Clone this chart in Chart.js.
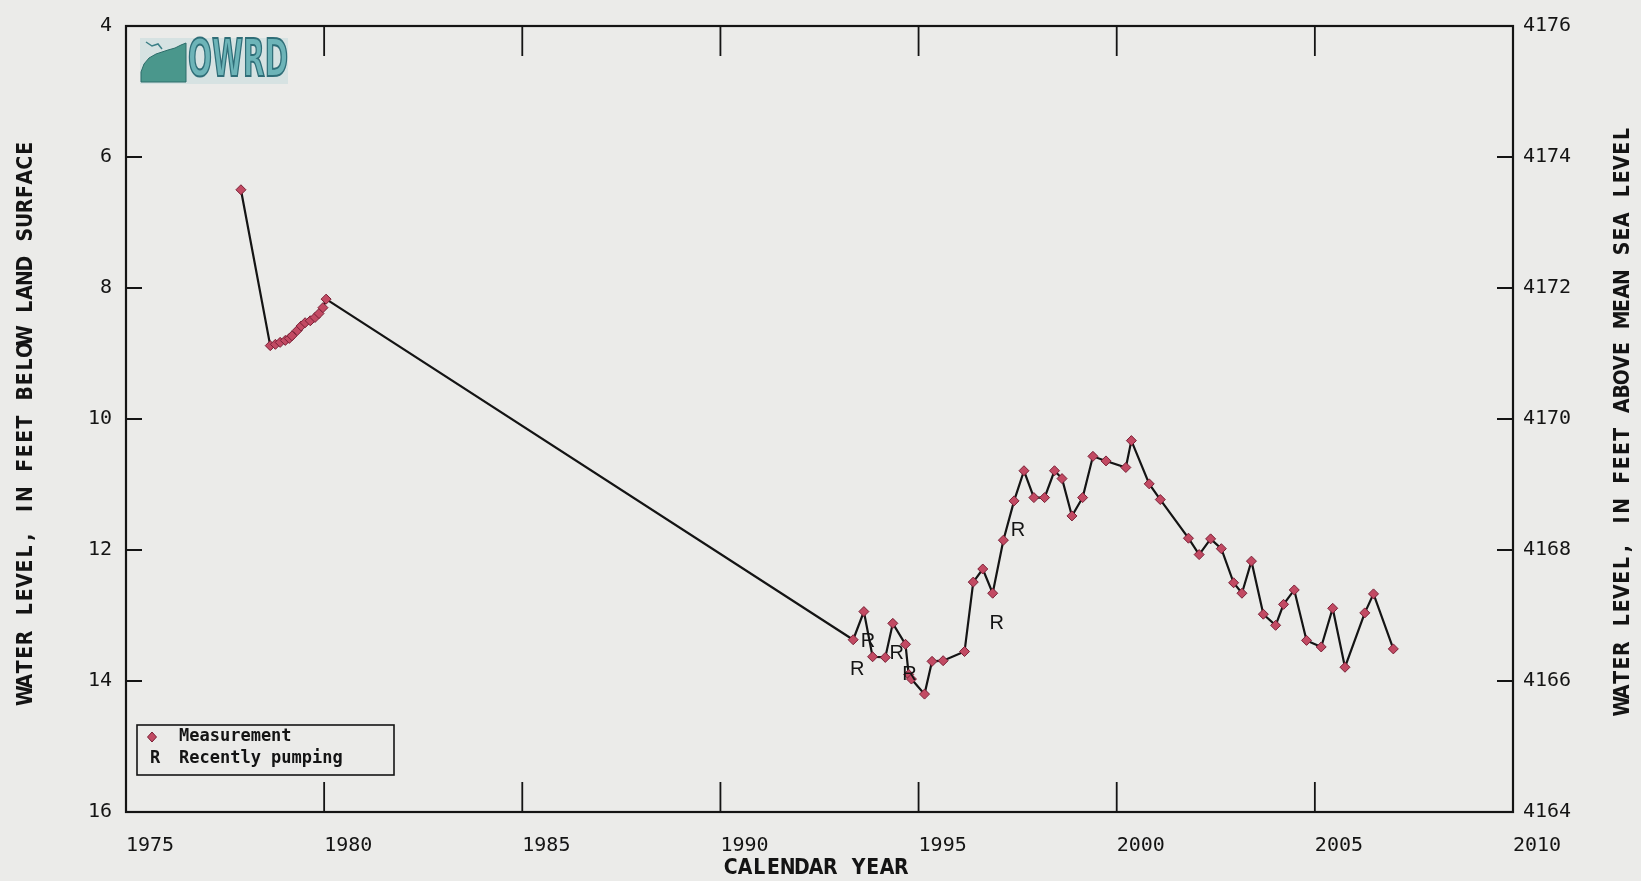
<!DOCTYPE html>
<html>
<head>
<meta charset="utf-8">
<script src="https://cdn.jsdelivr.net/npm/chart.js@4.4.1/dist/chart.umd.min.js"></script>
<style>
html,body{margin:0;padding:0;background:#ebebe9;}
canvas{display:block;}
</style>
</head>
<body>
<canvas id="c" width="1641" height="881"></canvas>
<script>
// ---- data ----
const years = [1977.90,
  1978.64,1978.77,1978.89,1979.02,1979.12,1979.19,1979.32,1979.42,1979.52,1979.65,1979.77,1979.87,1979.97,1980.05,
  1993.35,1993.62,1993.84,1994.16,1994.35,1994.67,1994.75,1994.82,1995.15,1995.34,
  1995.62,1996.16,1996.38,1996.62,1996.87,1997.14,1997.41,1997.66,1997.91,1998.18,
  1998.43,1998.62,1998.87,1999.14,1999.40,1999.73,2000.23,2000.37,2000.82,2001.10,
  2001.81,2002.08,2002.37,2002.64,2002.95,2003.16,2003.40,2003.70,2004.01,2004.21,
  2004.48,2004.79,2005.16,2005.45,2005.76,2006.26,2006.48,2006.98];
const depths = [6.50,
  8.88,8.86,8.83,8.80,8.77,8.73,8.65,8.58,8.53,8.50,8.45,8.39,8.30,8.17,
  13.37,12.94,13.63,13.64,13.12,13.44,13.90,13.97,14.20,13.70,
  13.69,13.55,12.49,12.29,12.66,11.85,11.25,10.79,11.20,11.20,
  10.79,10.91,11.48,11.20,10.57,10.64,10.74,10.33,10.99,11.23,
  11.82,12.07,11.83,11.98,12.50,12.66,12.17,12.98,13.15,12.83,
  12.61,13.38,13.48,12.89,13.79,12.96,12.67,13.51];
const pumpYears = [1993.35,1993.62,1994.35,1994.67,1996.87,1997.41];
const pumpDepths = [13.37,12.94,13.12,13.44,12.66,11.25];

const xTickValues = [1975,1980,1985,1990,1995,2000,2005,2010];
const xTickLabels = ['1975','1980','1985','1990','1995','2000','2005','2010'];
const yLeftTicks = [4,6,8,10,12,14,16];
const yRightTicks = [4164,4166,4168,4170,4172,4174,4176];

const xTitle = 'CALENDAR YEAR';
const yLeftTitle = 'WATER LEVEL, IN FEET BELOW LAND SURFACE';
const yRightTitle = 'WATER LEVEL, IN FEET ABOVE MEAN SEA LEVEL';
const legendLabels = ['Measurement','Recently pumping'];

// ---- styling helpers ----
const INK = '#141414';
const BG = '#ebebe9';
const PT_FILL = '#c24a63';
const PT_EDGE = '#7a2036';
const tickFont = {family:'DejaVu Sans Mono', size:20};

const bgPlugin = {
  id:'bg',
  beforeDraw(chart){
    const ctx = chart.ctx;
    ctx.save();
    ctx.fillStyle = BG;
    ctx.fillRect(0,0,chart.width,chart.height);
    ctx.restore();
  }
};

const framePlugin = {
  id:'frame',
  afterDraw(chart){
    const ctx = chart.ctx, a = chart.chartArea;
    const xs = chart.scales.x, yl = chart.scales.y, yr = chart.scales.y2;
    ctx.save();
    ctx.strokeStyle = INK;
    ctx.lineWidth = 2.2;
    ctx.strokeRect(a.left, a.top, a.right - a.left, a.bottom - a.top);
    ctx.lineWidth = 1.8;
    ctx.beginPath();
    xTickValues.slice(1,-1).forEach(v=>{
      const px = xs.getPixelForValue(v);
      ctx.moveTo(px, a.top); ctx.lineTo(px, a.top + 30);
      ctx.moveTo(px, a.bottom); ctx.lineTo(px, a.bottom - 30);
    });
    yLeftTicks.slice(1,-1).forEach(v=>{
      const py = yl.getPixelForValue(v);
      ctx.moveTo(a.left, py); ctx.lineTo(a.left + 16, py);
    });
    yRightTicks.slice(1,-1).forEach(v=>{
      const py = yr.getPixelForValue(v);
      ctx.moveTo(a.right, py); ctx.lineTo(a.right - 16, py);
    });
    ctx.stroke();
    ctx.restore();
  }
};

// draws an axis title with even per-character advance (plotter style)
function spacedText(ctx, text, x, y, rot, advance){
  ctx.save();
  ctx.translate(x, y);
  ctx.rotate(rot);
  ctx.font = 'bold 21px "DejaVu Sans Condensed"';
  ctx.fillStyle = INK;
  ctx.textBaseline = 'middle';
  ctx.textAlign = 'center';
  const chars = Array.from(text);
  const total = advance * chars.length;
  let cx = -total/2 + advance/2;
  for (const ch of chars){ ctx.fillText(ch, cx, 0); cx += advance; }
  ctx.restore();
}

const titlePlugin = {
  id:'titles',
  afterDraw(chart){
    const ctx = chart.ctx, a = chart.chartArea;
    const midY = (a.top + a.bottom)/2;
    spacedText(ctx, yLeftTitle, 27, midY + 3, -Math.PI/2, 14.4);
    spacedText(ctx, yRightTitle, 1624, midY + 1, -Math.PI/2, 14.3);
    spacedText(ctx, xTitle, 816, 869, 0, 14.2);
  }
};

const pumpPlugin = {
  id:'pump',
  afterDatasetsDraw(chart){
    const ctx = chart.ctx;
    const meta = chart.getDatasetMeta(1);
    ctx.save();
    ctx.font = '20px "Liberation Sans"';
    ctx.fillStyle = INK;
    ctx.textAlign = 'center';
    ctx.textBaseline = 'middle';
    meta.data.forEach(el=>{
      ctx.fillText('R', el.x + 4, el.y + 30);
    });
    ctx.restore();
  }
};

const legendPlugin = {
  id:'boxlegend',
  afterDraw(chart){
    const ctx = chart.ctx;
    ctx.save();
    ctx.strokeStyle = INK;
    ctx.lineWidth = 1.6;
    ctx.strokeRect(137, 725, 257, 50);
    ctx.beginPath();
    ctx.moveTo(152, 732); ctx.lineTo(156.5, 737); ctx.lineTo(152, 742); ctx.lineTo(147.5, 737); ctx.closePath();
    ctx.fillStyle = PT_FILL; ctx.fill();
    ctx.strokeStyle = PT_EDGE; ctx.lineWidth = 1; ctx.stroke();
    ctx.fillStyle = INK;
    ctx.font = 'bold 17px "DejaVu Sans Mono"';
    ctx.textBaseline = 'middle';
    ctx.textAlign = 'center';
    ctx.fillText('R', 155, 759);
    ctx.textAlign = 'left';
    ctx.fillText(legendLabels[0], 179, 737);
    ctx.fillText(legendLabels[1], 179, 759);
    ctx.restore();
  }
};

const logoPlugin = {
  id:'logo',
  afterDraw(chart){
    const ctx = chart.ctx;
    ctx.save();
    ctx.fillStyle = 'rgba(175,210,214,0.35)';
    ctx.fillRect(140, 38, 148, 46);
    ctx.beginPath();
    ctx.moveTo(141, 82); ctx.lineTo(141, 72); ctx.lineTo(144, 64); ctx.lineTo(149, 58);
    ctx.lineTo(156, 54); ctx.lineTo(162, 52); ctx.lineTo(168, 50); ctx.lineTo(175, 48);
    ctx.lineTo(181, 45); ctx.lineTo(186, 43); ctx.lineTo(186, 82); ctx.closePath();
    ctx.fillStyle = '#4a978c';
    ctx.fill();
    ctx.strokeStyle = '#2c6d6a'; ctx.lineWidth = 1; ctx.stroke();
    ctx.beginPath();
    ctx.moveTo(146, 42); ctx.lineTo(152, 46); ctx.lineTo(158, 44); ctx.lineTo(162, 49);
    ctx.strokeStyle = '#3b7f86'; ctx.lineWidth = 1.5; ctx.stroke();
    ctx.font = 'bold 52px "DejaVu Sans Condensed"';
    const w = ctx.measureText('OWRD').width;
    ctx.translate(188, 62);
    ctx.scale(100 / w, 1);
    ctx.textBaseline = 'middle';
    ctx.textAlign = 'left';
    ctx.fillStyle = '#6db4b8';
    ctx.fillText('OWRD', 0, 0);
    ctx.strokeStyle = '#2f6e78';
    ctx.lineWidth = 2;
    ctx.strokeText('OWRD', 0, 0);
    ctx.restore();
  }
};

new Chart(document.getElementById('c'), {
  type:'scatter',
  data:{
    datasets:[
      {
        label: legendLabels[0],
        data: years.map((x,i)=>({x:x, y:depths[i]})),
        xAxisID:'x', yAxisID:'y',
        showLine:true,
        borderColor: INK,
        borderWidth: 2.2,
        tension: 0,
        pointStyle:'rectRot',
        pointRadius: 5,
        pointBackgroundColor: PT_FILL,
        pointBorderColor: PT_EDGE,
        pointBorderWidth: 1,
        order: 1
      },
      {
        label: legendLabels[1],
        data: pumpYears.map((x,i)=>({x:x, y:pumpDepths[i]})),
        xAxisID:'x', yAxisID:'y',
        showLine:false,
        pointRadius: 0,
        order: 0
      }
    ]
  },
  options:{
    responsive:false,
    animation:false,
    devicePixelRatio:1,
    layout:{padding:{top:18, left:0, right:0, bottom:0}},
    plugins:{legend:{display:false}, tooltip:{enabled:false}},
    scales:{
      x:{
        type:'linear', position:'bottom', min:1975, max:2010,
        afterBuildTicks(s){ s.ticks = xTickValues.map(v=>({value:v})); },
        ticks:{align:'start', padding:22, color:INK, font:tickFont, maxRotation:0, autoSkip:false,
          callback:(v)=>{ const i = xTickValues.indexOf(v); return i>=0 ? xTickLabels[i] : ''; }},
        grid:{display:false, drawTicks:false},
        border:{display:false},
        afterFit(s){ s.height = 69; }
      },
      y:{
        type:'linear', position:'left', reverse:true, min:4, max:16,
        afterBuildTicks(s){ s.ticks = yLeftTicks.map(v=>({value:v})); },
        ticks:{padding:14, color:INK, font:tickFont, callback:(v)=>String(v)},
        grid:{display:false, drawTicks:false},
        border:{display:false},
        afterFit(s){ s.width = 126; }
      },
      y2:{
        type:'linear', position:'right', min:4164, max:4176,
        afterBuildTicks(s){ s.ticks = yRightTicks.map(v=>({value:v})); },
        ticks:{padding:10, color:INK, font:tickFont, callback:(v)=>String(v)},
        grid:{display:false, drawTicks:false},
        border:{display:false},
        afterFit(s){ s.width = 128; }
      }
    }
  },
  plugins:[bgPlugin, framePlugin, titlePlugin, pumpPlugin, legendPlugin, logoPlugin]
});
</script>
</body>
</html>
